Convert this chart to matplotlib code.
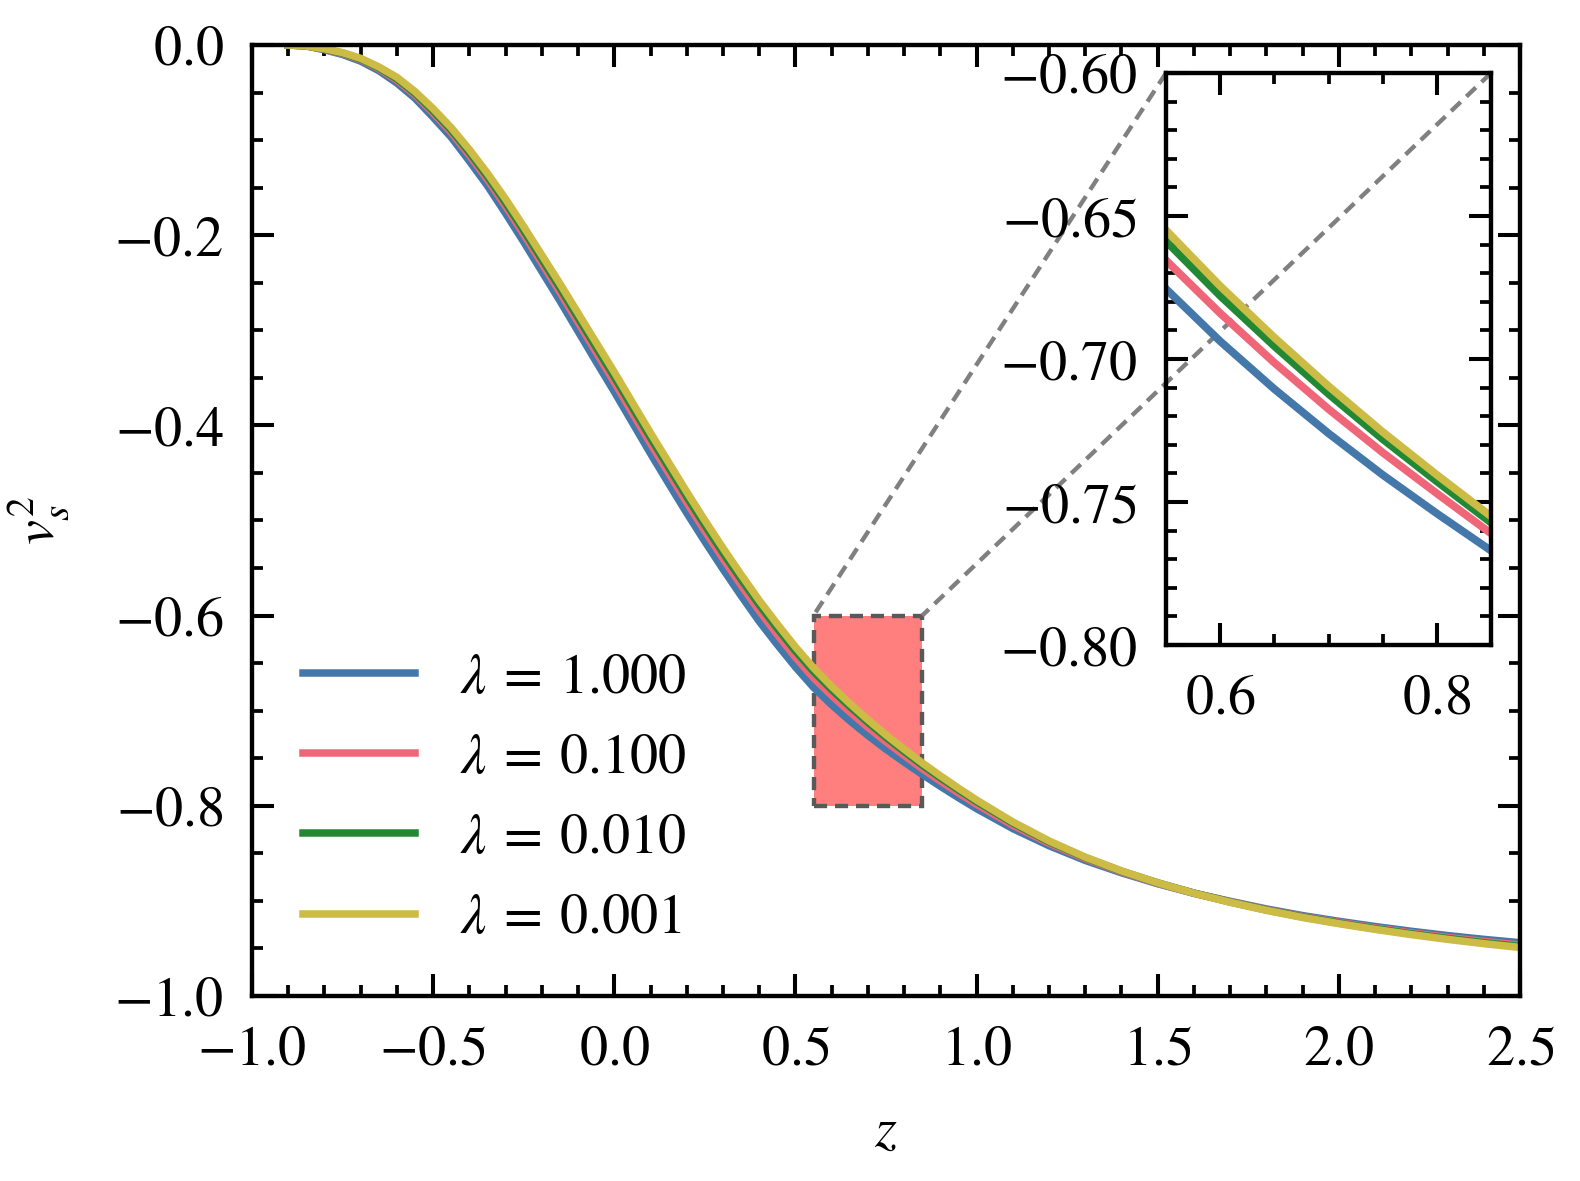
import matplotlib
matplotlib.use("Agg")
import matplotlib.pyplot as plt
from matplotlib.ticker import MultipleLocator, FuncFormatter
from mpl_toolkits.axes_grid1.inset_locator import mark_inset

# redshift grid
z = [-0.90, -0.85, -0.80, -0.75, -0.70, -0.65, -0.60, -0.55, -0.50, -0.45,
     -0.40, -0.35, -0.30, -0.25, -0.20, -0.15, -0.10, -0.05, 0.00, 0.05,
     0.10, 0.15, 0.20, 0.25, 0.30, 0.35, 0.40, 0.45, 0.50, 0.55,
     0.60, 0.65, 0.70, 0.75, 0.80, 0.85, 0.90, 0.95, 1.00, 1.10,
     1.20, 1.30, 1.40, 1.50, 1.60, 1.70, 1.80, 1.90, 2.00, 2.10,
     2.20, 2.30, 2.40, 2.50]

# v_s^2 for each lambda
vs2_l1000 = [0.0000, -0.0010, -0.0050, -0.0100, -0.0170, -0.0270, -0.0400, -0.0560, -0.0760, -0.0970,
             -0.1220, -0.1480, -0.1770, -0.2070, -0.2380, -0.2690, -0.3010, -0.3330, -0.3645, -0.3970,
             -0.4295, -0.4610, -0.4920, -0.5220, -0.5510, -0.5790, -0.6060, -0.6305, -0.6540, -0.6755,
             -0.6938, -0.7105, -0.7260, -0.7405, -0.7540, -0.7670, -0.7795, -0.7915, -0.8030, -0.8240,
             -0.8420, -0.8575, -0.8705, -0.8820, -0.8920, -0.9005, -0.9085, -0.9155, -0.9215, -0.9270,
             -0.9320, -0.9365, -0.9405, -0.9440]
vs2_l0100 = [0.0000, -0.0010, -0.0045, -0.0090, -0.0155, -0.0250, -0.0370, -0.0525, -0.0715, -0.0920,
             -0.1160, -0.1415, -0.1695, -0.1990, -0.2295, -0.2600, -0.2915, -0.3230, -0.3545, -0.3870,
             -0.4190, -0.4500, -0.4810, -0.5110, -0.5400, -0.5680, -0.5950, -0.6200, -0.6438, -0.6655,
             -0.6840, -0.7013, -0.7175, -0.7327, -0.7470, -0.7610, -0.7740, -0.7865, -0.7985, -0.8205,
             -0.8395, -0.8557, -0.8695, -0.8815, -0.8920, -0.9010, -0.9092, -0.9165, -0.9227, -0.9285,
             -0.9337, -0.9385, -0.9427, -0.9465]
vs2_l0010 = [0.0000, -0.0010, -0.0043, -0.0085, -0.0148, -0.0240, -0.0355, -0.0508, -0.0693, -0.0895,
             -0.1130, -0.1383, -0.1658, -0.1950, -0.2253, -0.2555, -0.2868, -0.3180, -0.3490, -0.3810,
             -0.4130, -0.4440, -0.4750, -0.5050, -0.5340, -0.5618, -0.5886, -0.6134, -0.6371, -0.6588,
             -0.6779, -0.6955, -0.7122, -0.7280, -0.7428, -0.7572, -0.7705, -0.7833, -0.7956, -0.8182,
             -0.8379, -0.8546, -0.8688, -0.8810, -0.8918, -0.9012, -0.9096, -0.9170, -0.9234, -0.9293,
             -0.9347, -0.9396, -0.9440, -0.9480]
vs2_l0001 = [0.0000, -0.0010, -0.0040, -0.0080, -0.0140, -0.0230, -0.0340, -0.0490, -0.0670, -0.0870,
             -0.1100, -0.1350, -0.1620, -0.1910, -0.2210, -0.2510, -0.2820, -0.3130, -0.3440, -0.3760,
             -0.4080, -0.4390, -0.4700, -0.5000, -0.5290, -0.5570, -0.5840, -0.6090, -0.6330, -0.6550,
             -0.6745, -0.6925, -0.7095, -0.7255, -0.7405, -0.7550, -0.7685, -0.7815, -0.7940, -0.8170,
             -0.8370, -0.8540, -0.8685, -0.8810, -0.8920, -0.9015, -0.9100, -0.9175, -0.9240, -0.9300,
             -0.9355, -0.9405, -0.9450, -0.9490]

labels = [r"$\lambda \:=\: 1.000$", r"$\lambda \:=\: 0.100$",
          r"$\lambda \:=\: 0.010$", r"$\lambda \:=\: 0.001$"]
colors = ["#4477AA", "#EE6677", "#228833", "#CCBB44"]
curves = [vs2_l1000, vs2_l0100, vs2_l0010, vs2_l0001]

# zoom window
zoom_x = (0.55, 0.85)
zoom_y = (-0.80, -0.60)

plt.rcParams["font.family"] = ["Liberation Serif", "DejaVu Serif"]
plt.rcParams["mathtext.fontset"] = "stix"
plt.rcParams["font.size"] = 9
plt.rcParams["axes.linewidth"] = 0.7


def style_ticks(a, pad):
    a.tick_params(which="both", direction="in", top=True, right=True)
    a.tick_params(which="major", length=3.5, width=0.65, pad=pad)
    a.tick_params(which="minor", length=1.75, width=0.6)


fig = plt.figure(figsize=(1580 / 450, 1181 / 450), dpi=450)
ax = fig.add_axes([0.1595, 0.1567, 0.8025, 0.8052])

for y, c, lab in zip(curves, colors, labels):
    ax.plot(z, y, color=c, lw=1.2, label=lab)

ax.set_xlim(-1.0, 2.5)
ax.set_ylim(-1.0, 0.0)
ax.xaxis.set_major_locator(MultipleLocator(0.5))
ax.xaxis.set_minor_locator(MultipleLocator(0.1))
ax.yaxis.set_major_locator(MultipleLocator(0.2))
ax.yaxis.set_minor_locator(MultipleLocator(0.05))
ax.xaxis.set_major_formatter(FuncFormatter(lambda v, p: "$%.1f$" % v))
ax.yaxis.set_major_formatter(FuncFormatter(lambda v, p: "$%.1f$" % v))
style_ticks(ax, 4.5)
ax.set_xlabel("$z$", labelpad=4.8)
ax.set_ylabel("$v_s^2$", labelpad=7)
ax.legend(loc="lower left", frameon=False)

# inset
axins = fig.add_axes([0.738, 0.4538, 0.2057, 0.4844])
for y, c in zip(curves, colors):
    axins.plot(z, y, color=c, lw=1.25)
axins.set_xlim(*zoom_x)
axins.set_ylim(*zoom_y)
axins.xaxis.set_major_locator(MultipleLocator(0.2))
axins.xaxis.set_minor_locator(MultipleLocator(0.05))
axins.yaxis.set_major_locator(MultipleLocator(0.05))
axins.yaxis.set_minor_locator(MultipleLocator(0.01))
axins.xaxis.set_major_formatter(FuncFormatter(lambda v, p: "$%.1f$" % v))
axins.yaxis.set_major_formatter(FuncFormatter(lambda v, p: "$%.2f$" % v))
style_ticks(axins, 4.5)

pp, p1, p2 = mark_inset(ax, axins, loc1=2, loc2=1, fc="#FF7F7F", ec="0.35",
                        ls=(0, (3, 1.8)), lw=0.7)
for p in (p1, p2):
    p.set_edgecolor("0.5")

fig.savefig("out.png", dpi=450)
